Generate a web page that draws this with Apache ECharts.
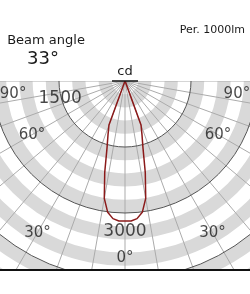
<!DOCTYPE html>
<html>
<head>
<meta charset="utf-8">
<script src="https://cdn.jsdelivr.net/npm/echarts@6/dist/echarts.min.js"></script>
<style>
html, body { margin: 0; padding: 0; background: #fff; }
#chart { width: 250px; height: 294px; }
</style>
</head>
<body>
<div id="chart"></div>
<script>
// luminous intensity (cd per 1000 lm) by angle from nadir, degrees
const angles = [0, 2.5, 5, 7.5, 10, 12.5, 15, 17.5, 20, 22.5, 25, 30, 40, 50, 60, 70, 80, 90];
const intensity = [3180, 3185, 3140, 3010, 2710, 2130, 1580, 1285, 1065, 40, 15, 5, 2, 0, 0, 0, 0, 0];
const angleLabels = ['0°', '30°', '60°', '90°'];
const radiusLabels = ['1500', '3000'];
const beamAngle = '33°';
const fluxNote = 'Per. 1000lm';
const unit = 'cd';

const font = 'DejaVu Sans';
const myEcharts = echarts.init(document.getElementById('chart'));

// curve: left half (90 -> 0) then right half (0 -> 90), symmetric
const curve = [];
for (let i = angles.length - 1; i >= 0; i--) curve.push([intensity[i], angles[i]]);
for (let i = 1; i < angles.length; i++) curve.push([intensity[i], 360 - angles[i]]);

// label anchors in polar space [radius cd, angle deg]
const angleLabelPos = [[4020, 0], [3980, 30], [2440, 60], [2560, 83.4]];
const labelData = [];
angleLabels.forEach((txt, i) => {
    const [r, a] = angleLabelPos[i];
    labelData.push({ name: txt, value: [r, a] });
    if (a !== 0) labelData.push({ name: txt, value: [r, 360 - a] });
});
const radiusLabelData = [
    { name: radiusLabels[0], value: [1530, 74.5] },
    { name: radiusLabels[1], value: [3430, 0] }
];

const hiddenAxis = {
    axisLine: { show: false },
    axisTick: { show: false },
    axisLabel: { show: false }
};

const option = {
    animation: false,
    polar: [
        { center: [125, 81], radius: 237.6 },
        { center: [125, 81], radius: 237.6 }
    ],
    radiusAxis: [
        {
            // grey/white bands every 300 cd
            polarIndex: 0,
            type: 'value',
            min: 0,
            max: 5400,
            interval: 300,
            z: 1,
            ...hiddenAxis,
            splitLine: { show: false },
            splitArea: { show: true, areaStyle: { color: ['#ffffff', '#d9d9d9'] } }
        },
        {
            // dark circles every 1500 cd
            polarIndex: 1,
            type: 'value',
            min: 0,
            max: 5400,
            interval: 1500,
            z: 3,
            ...hiddenAxis,
            splitArea: { show: false },
            splitLine: { show: true, lineStyle: { color: '#555', width: 1 } }
        }
    ],
    angleAxis: [
        {
            polarIndex: 0,
            type: 'value',
            min: 0,
            max: 360,
            interval: 10,
            startAngle: 270,
            clockwise: true,
            z: 2,
            ...hiddenAxis,
            splitLine: { show: true, lineStyle: { color: '#ababab', width: 1 } }
        },
        {
            polarIndex: 1,
            type: 'value',
            min: 0,
            max: 360,
            interval: 90,
            startAngle: 270,
            clockwise: true,
            ...hiddenAxis,
            splitLine: { show: false }
        }
    ],
    series: [
        {
            type: 'line',
            coordinateSystem: 'polar',
            polarIndex: 0,
            data: curve,
            showSymbol: false,
            smooth: false,
            z: 5,
            lineStyle: { color: '#8b1a1a', width: 1.5 }
        },
        {
            type: 'scatter',
            coordinateSystem: 'polar',
            polarIndex: 0,
            data: labelData,
            symbolSize: 0,
            silent: true,
            z: 6,
            label: { show: true, position: 'inside', formatter: '{b}', fontFamily: font, fontSize: 15, color: '#1a1a1a' }
        },
        {
            type: 'scatter',
            coordinateSystem: 'polar',
            polarIndex: 0,
            data: radiusLabelData,
            symbolSize: 0,
            silent: true,
            z: 6,
            label: { show: true, position: 'inside', formatter: '{b}', fontFamily: font, fontSize: 17, color: '#1a1a1a' }
        }
    ],
    graphic: [
        // crop the diagram to the band between the two rules
        { type: 'rect', z: 10, shape: { x: 0, y: 0, width: 250, height: 81 }, style: { fill: '#fff' } },
        { type: 'rect', z: 10, shape: { x: 0, y: 271, width: 250, height: 30 }, style: { fill: '#fff' } },
        { type: 'line', z: 11, shape: { x1: 112, y1: 81, x2: 138, y2: 81 }, style: { stroke: '#111', lineWidth: 1.5 } },
        { type: 'line', z: 11, shape: { x1: 0, y1: 270, x2: 250, y2: 270 }, style: { stroke: '#111', lineWidth: 2 } },
        { type: 'text', z: 12, style: { text: unit, x: 125, y: 72, font: '13px ' + font, fill: '#1a1a1a', textAlign: 'center', textVerticalAlign: 'middle' } },
        { type: 'text', z: 12, style: { text: 'Beam angle', x: 46, y: 41, font: '13px ' + font, fill: '#1a1a1a', textAlign: 'center', textVerticalAlign: 'middle' } },
        { type: 'text', z: 12, style: { text: beamAngle, x: 43, y: 59, font: '18px ' + font, fill: '#1a1a1a', textAlign: 'center', textVerticalAlign: 'middle' } },
        { type: 'text', z: 12, style: { text: fluxNote, x: 245, y: 30, font: '11px ' + font, fill: '#1a1a1a', textAlign: 'right', textVerticalAlign: 'middle' } }
    ]
};
myEcharts.setOption(option);
</script>
</body>
</html>
